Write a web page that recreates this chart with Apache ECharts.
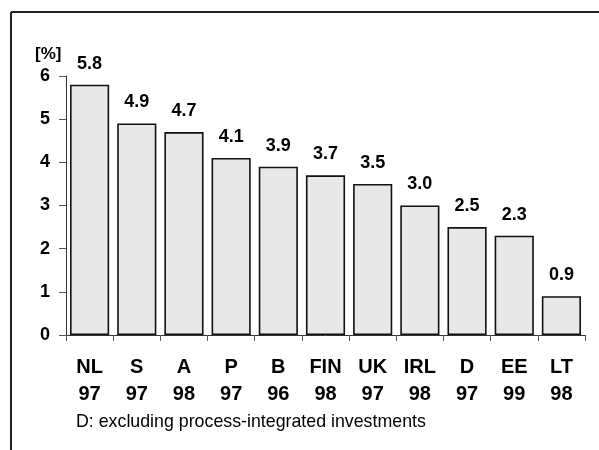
<!DOCTYPE html>
<html>
<head>
<meta charset="utf-8">
<script src="https://cdn.jsdelivr.net/npm/echarts@6/dist/echarts.min.js"></script>
<style>
  html, body { margin: 0; padding: 0; background: #fff; }
  #chart { width: 599px; height: 450px; }
</style>
</head>
<body>
<div id="chart"></div>
<script>
// Country codes and reference years for each bar
const countries = ['NL', 'S', 'A', 'P', 'B', 'FIN', 'UK', 'IRL', 'D', 'EE', 'LT'];
const years = ['97', '97', '98', '97', '96', '98', '97', '98', '97', '99', '98'];
// Share in percent
const shares = [5.8, 4.9, 4.7, 4.1, 3.9, 3.7, 3.5, 3.0, 2.5, 2.3, 0.9];
const yTicks = [0, 1, 2, 3, 4, 5, 6];

const categories = countries.map((c, i) => c + '\n' + years[i]);
const FONT = 'Arial, "Liberation Sans", sans-serif';

const chart = echarts.init(document.getElementById('chart'), null, { renderer: 'canvas' });
chart.setOption({
  animation: false,
  backgroundColor: '#ffffff',
  grid: { left: 66, right: 14, top: 76, bottom: 115, containLabel: false },
  xAxis: {
    type: 'category',
    data: categories,
    axisLine: { lineStyle: { color: '#333', width: 1 } },
    axisTick: { show: true, length: 6, lineStyle: { color: '#555' } },
    axisLabel: {
      color: '#000', fontFamily: FONT, fontWeight: 'bold', fontSize: 20,
      lineHeight: 27, margin: 19
    }
  },
  yAxis: {
    type: 'value',
    min: yTicks[0],
    max: yTicks[yTicks.length - 1],
    interval: 1,
    splitLine: { show: false },
    axisLine: { show: true, lineStyle: { color: '#333', width: 1 } },
    axisTick: { show: true, length: 7, lineStyle: { color: '#555' } },
    axisLabel: { color: '#000', fontFamily: FONT, fontWeight: 'bold', fontSize: 18, margin: 16 }
  },
  series: [{
    type: 'bar',
    data: shares,
    barCategoryGap: '17%',
    itemStyle: { color: '#e8e8e8', borderColor: '#111', borderWidth: 1.6 },
    label: {
      show: true, position: 'top', distance: 12,
      color: '#000', fontFamily: FONT, fontWeight: 'bold', fontSize: 18,
      formatter: p => p.value.toFixed(1)
    }
  }],
  graphic: [
    { type: 'line', shape: { x1: 11, y1: 12, x2: 599, y2: 12 }, style: { stroke: '#222', lineWidth: 2 } },
    { type: 'line', shape: { x1: 11, y1: 12, x2: 11, y2: 450 }, style: { stroke: '#222', lineWidth: 2 } },
    { type: 'text', left: 35, top: 46, style: { text: '[%]', fill: '#000', font: 'bold 17px ' + FONT } },
    { type: 'text', left: 76, top: 413, style: { text: 'D: excluding process-integrated investments', fill: '#000', font: '17.8px ' + FONT } }
  ]
});
</script>
</body>
</html>
